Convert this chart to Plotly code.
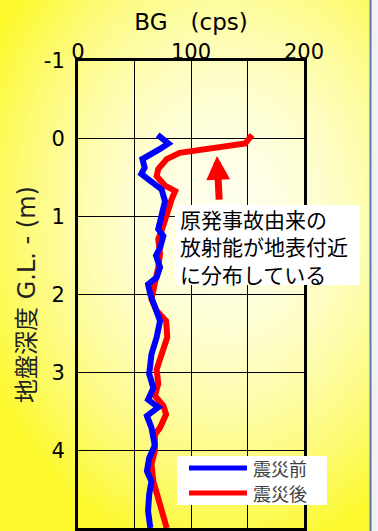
import zlib, struct, base64
import numpy as np
import plotly.graph_objects as go

# ---- data ----
depth_before = [-0.05, 0.06, 0.13, 0.20, 0.26, 0.37, 0.45, 0.54, 0.65, 0.80, 1.00, 1.16, 1.25, 1.40, 1.50,
                1.65, 1.78, 1.87, 2.00, 2.15, 2.34, 2.55, 2.77, 3.02, 3.20, 3.35, 3.45, 3.56, 3.71, 3.94,
                4.10, 4.27, 4.40, 4.57, 4.78, 5.00]
bg_before = [70.5, 80, 72.6, 63, 57, 59, 56, 64, 74, 77, 74, 71, 75.5, 72.6, 69,
             72.6, 69.6, 62, 64, 68, 72.6, 69.6, 65, 63, 66.7, 62, 71, 61, 65, 68,
             63, 61, 65, 63, 62, 64]

depth_after = [-0.05, 0.06, 0.18, 0.26, 0.39, 0.48, 0.60, 0.67, 0.77, 1.00, 1.18, 1.29, 1.48, 1.65, 1.87,
               2.06, 2.21, 2.34, 2.55, 2.72, 2.96, 3.15, 3.30, 3.43, 3.54, 3.71, 3.80, 4.01, 4.18, 4.40,
               4.61, 4.82, 5.00]
bg_after = [154, 148, 90, 78.5, 71, 69.6, 77, 86, 83, 78.5, 74, 71, 72.6, 71, 68,
            65, 69.6, 78, 79, 75, 69.6, 71, 68, 75.5, 78, 72.6, 68, 68, 65, 66.7,
            71, 74, 78.5]

series_names = ["震災前", "震災後"]
x_ticks = [0, 50, 100, 150, 200]
x_ticktext = ["0", "", "100", "", "200"]
y_ticks = [-1, 0, 1, 2, 3, 4, 5]
y_ticktext = ["-1", "0", "1", "2", "3", "4", "5"]
note_text = "原発事故由来の<br>放射能が地表付近<br>に分布している"
x_title = "BG\u3000(cps)"
y_title = "地盤深度 G.L. - (m)"

# ---- background gradient image ----
W, H = 378, 531
def make_png(arr):
    h, w, _ = arr.shape
    raw = b"".join(b"\x00" + arr[i].tobytes() for i in range(h))
    def chunk(t, d):
        return struct.pack(">I", len(d)) + t + d + struct.pack(">I", zlib.crc32(t + d) & 0xffffffff)
    return (b"\x89PNG\r\n\x1a\n" + chunk(b"IHDR", struct.pack(">IIBBBBB", w, h, 8, 2, 0, 0, 0))
            + chunk(b"IDAT", zlib.compress(raw, 9)) + chunk(b"IEND", b""))

gw, gh = 126, 177
yy, xx = np.mgrid[0:gh, 0:gw]
px = (xx + 0.5) * W / gw
py = (yy + 0.5) * H / gh
d = np.sqrt(((px - 225) / 265) ** 2 + ((py - 215) / 345) ** 2)
t = np.clip(d, 0, 1) ** 1.8
c0 = np.array([255, 255, 238])
c1 = np.array([252, 249, 45])
img = (c0[None, None, :] * (1 - t[..., None]) + c1[None, None, :] * t[..., None]).astype(np.uint8)
uri = "data:image/png;base64," + base64.b64encode(make_png(img)).decode()

L, R, T, B = 78, 74, 61, 3
PW, PH = W - L - R, H - T - B
def px_x(v):
    return (v - L) / PW
def px_y(v):
    return (H - B - v) / PH

fig = go.Figure()
fig.add_trace(go.Scatter(x=bg_after, y=depth_after, mode="lines", name=series_names[1],
                         line=dict(color="#FF0000", width=6), showlegend=False))
fig.add_trace(go.Scatter(x=bg_before, y=depth_before, mode="lines", name=series_names[0],
                         line=dict(color="#0000FF", width=6), showlegend=False))

fig.add_layout_image(dict(source=uri, xref="paper", yref="paper", x=-L / PW, y=1 + T / PH,
                          sizex=W / PW, sizey=H / PH, sizing="stretch", layer="below",
                          xanchor="left", yanchor="top"))

font_lat = "DejaVu Sans, Noto Sans CJK JP, sans-serif"
font_jp = "Noto Sans CJK JP, sans-serif"

fig.update_xaxes(range=[0, 200], side="top", tickvals=x_ticks, ticktext=x_ticktext,
                 showgrid=True, gridcolor="#000000", gridwidth=1, zeroline=False,
                 showline=True, mirror=True, linecolor="#000000", linewidth=3,
                 tickfont=dict(family=font_lat, size=21, color="#000"),
                 ticks="", ticklabelstandoff=-9,
                 title=dict(text=x_title, font=dict(family=font_lat, size=23, color="#000"), standoff=3))
fig.update_yaxes(range=[5, -1], tickvals=y_ticks, ticktext=y_ticktext,
                 showgrid=True, gridcolor="#000000", gridwidth=1, zeroline=False,
                 showline=True, mirror=True, linecolor="#000000", linewidth=3,
                 tickfont=dict(family=font_lat, size=21, color="#000"),
                 ticks="", ticklabelstandoff=6,
                 title=dict(text=y_title, font=dict(family=font_lat, size=24, color="#222"), standoff=2))

# arrow
fig.add_annotation(x=123, y=0.22, ax=125, ay=0.8, xref="x", yref="y", axref="x", ayref="y",
                   text="", showarrow=True, arrowhead=2, arrowwidth=7, arrowsize=0.68,
                   arrowcolor="#FF0000", standoff=0)
# note box
fig.add_shape(type="rect", xref="paper", yref="paper", x0=px_x(175), x1=px_x(360),
              y0=px_y(285), y1=px_y(205), fillcolor="#FFFFFF", line=dict(width=0), layer="above")
fig.add_annotation(x=px_x(178), y=px_y(246), xref="paper", yref="paper",
                   xanchor="left", yanchor="middle", text=note_text, showarrow=False, align="left",
                   font=dict(family=font_jp, size=21, color="#000"))

# manual legend
fig.add_shape(type="rect", xref="paper", yref="paper",
              x0=px_x(177), x1=px_x(327), y0=px_y(505), y1=px_y(456),
              fillcolor="#FFFFFF", line=dict(width=0), layer="above")
for i, (nm, col) in enumerate([(series_names[0], "#0000FF"), (series_names[1], "#FF0000")]):
    yc = 468 + 25 * i
    fig.add_shape(type="line", xref="paper", yref="paper",
                  x0=px_x(189), x1=px_x(247), y0=px_y(yc), y1=px_y(yc),
                  line=dict(color=col, width=5), layer="above")
    fig.add_annotation(x=px_x(251), y=px_y(yc), xref="paper", yref="paper",
                       xanchor="left", yanchor="middle", text=nm, showarrow=False,
                       font=dict(family=font_jp, size=18, color="#404040"))

# right edge frame
fig.add_shape(type="rect", xref="paper", yref="paper", x0=px_x(372), x1=px_x(W + 5),
              y0=-0.1, y1=1.2, fillcolor="#F2F2F2", line=dict(width=0), layer="above")
fig.add_shape(type="line", xref="paper", yref="paper", x0=px_x(370.5), x1=px_x(370.5),
              y0=-0.1, y1=1.2, line=dict(color="#5A7BB0", width=2), layer="above")

fig.update_layout(width=W, height=H, margin=dict(l=L, r=R, t=T, b=B, autoexpand=False),
                  paper_bgcolor="#FFFFFF", plot_bgcolor="rgba(0,0,0,0)", showlegend=False)
fig.write_html("out.html")
